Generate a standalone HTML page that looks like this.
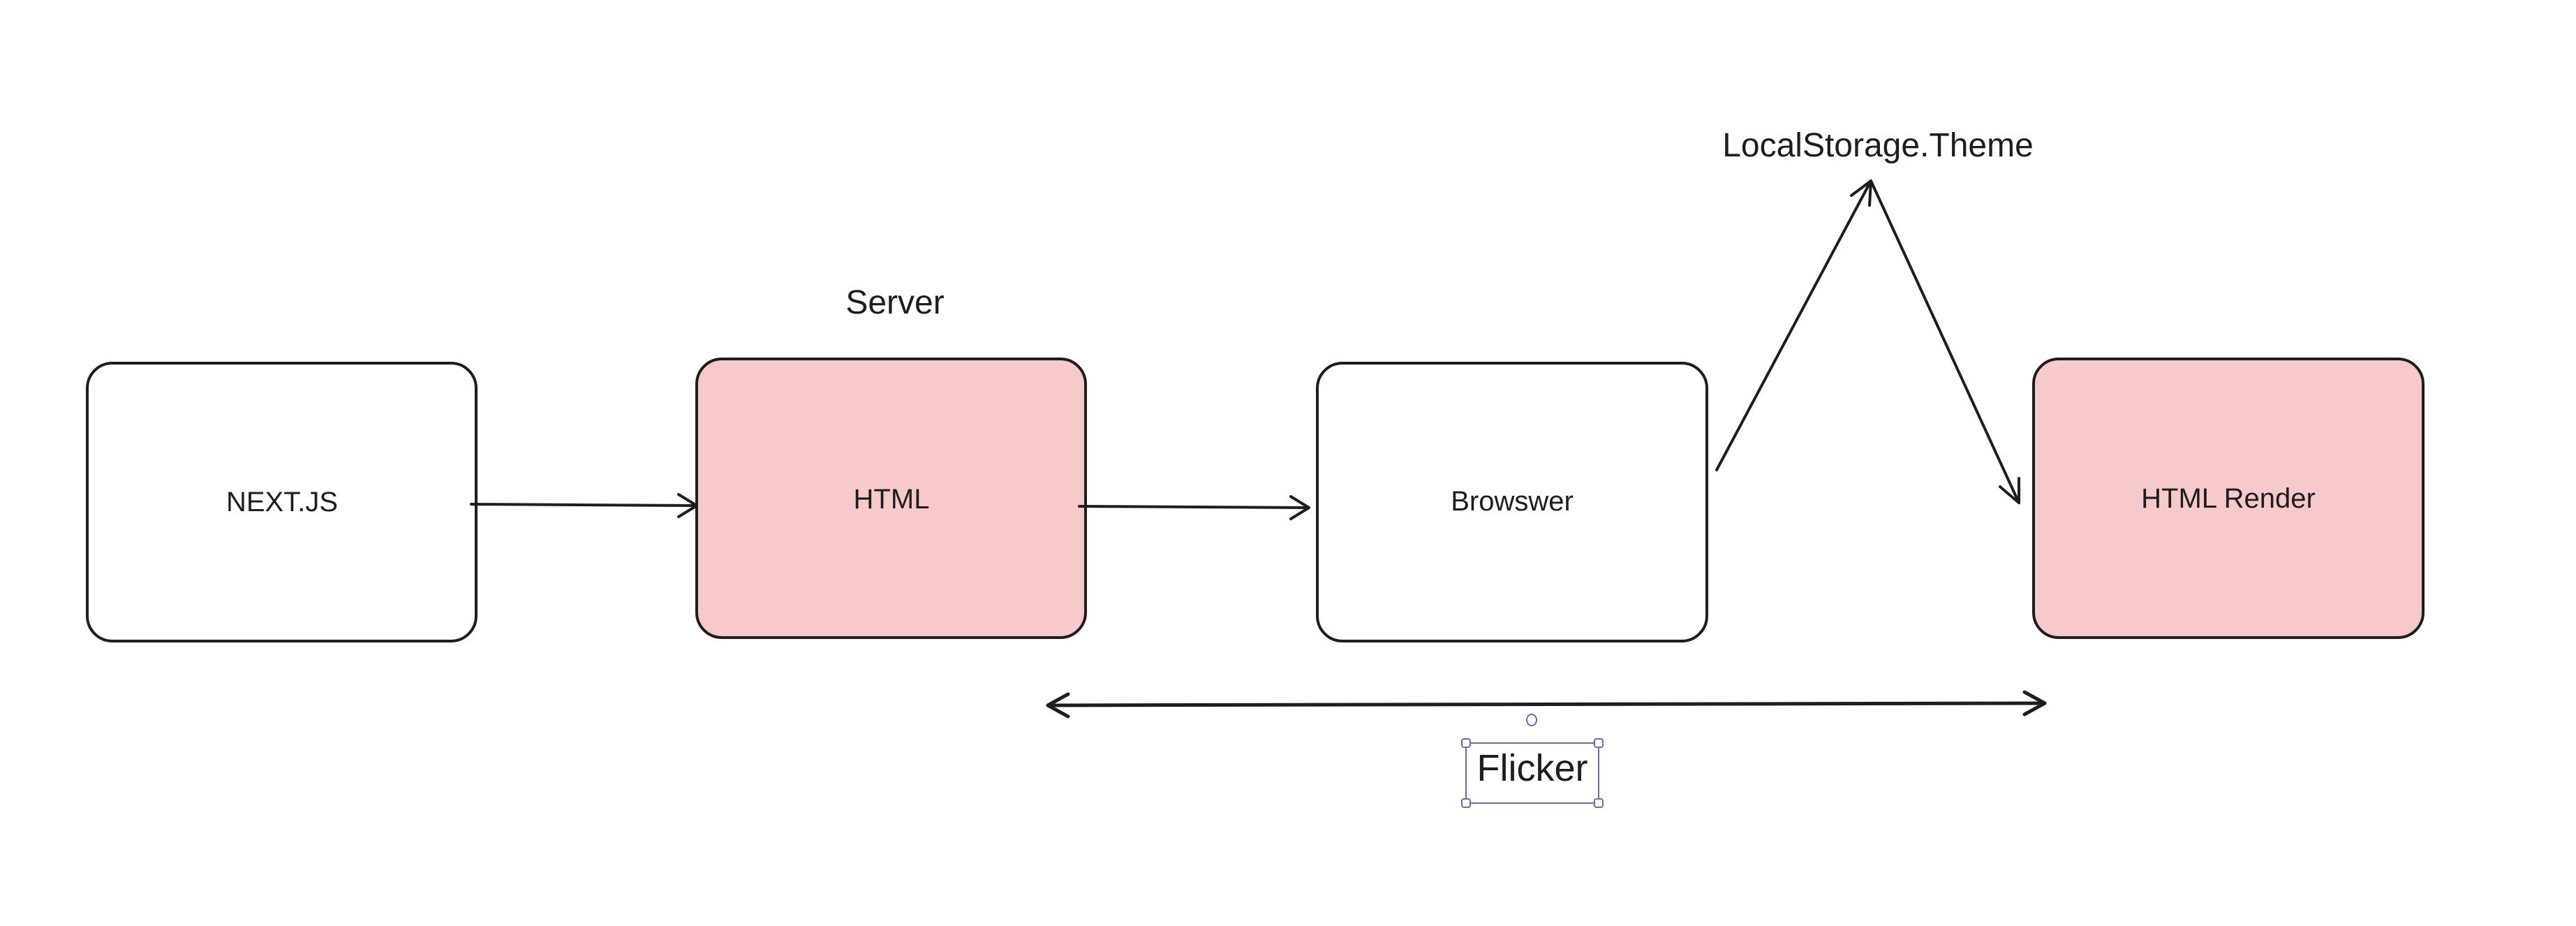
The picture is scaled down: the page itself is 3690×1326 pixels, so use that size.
<!DOCTYPE html>
<html><head><meta charset="utf-8"><style>
html,body{margin:0;padding:0;background:#fff;}
svg{display:block}
text{font-family:"Liberation Sans",sans-serif;fill:#1e1e1e;}
</style></head><body>
<svg width="3690" height="1326" viewBox="0 0 3690 1326" xmlns="http://www.w3.org/2000/svg">
<rect width="3690" height="1326" fill="#fff"/>
<g stroke="#1e1e1e" stroke-width="4" stroke-linecap="round" stroke-linejoin="round">
<rect x="125" y="520" width="557" height="398" rx="36" fill="#fff"/>
<rect x="998" y="514" width="557" height="399" rx="36" fill="#f6caca"/>
<rect x="1887" y="520" width="558" height="398" rx="36" fill="#fff"/>
<rect x="2913" y="514" width="558" height="399" rx="36" fill="#f6caca"/>
<g fill="none">
<path d="M675 722 L998 724 M972 708 L998 724 L972 740"/>
<path d="M1546 725 L1875 727 M1849 711 L1875 727 L1849 743"/>
<path d="M2459 673 L2680 259 M2652 280 L2680 259 L2678 294"/>
<path d="M2680 259 L2892 720 M2892 685 L2892 720 L2865 697"/>
<path d="M1501 1010 L2929 1007 M1530 994 L1501 1010 L1530 1026 M2900 991 L2929 1007 L2900 1023" stroke-width="5"/>
</g>
</g>
<text x="1282" y="449" font-size="48" text-anchor="middle">Server</text>
<text x="2690" y="224" font-size="48" text-anchor="middle">LocalStorage.Theme</text>
<text x="404" y="732" font-size="40" text-anchor="middle">NEXT.JS</text>
<text x="1277" y="728" font-size="40" text-anchor="middle">HTML</text>
<text x="2166" y="731" font-size="40" text-anchor="middle">Browswer</text>
<text x="3192" y="727" font-size="40" text-anchor="middle">HTML Render</text>
<text x="2195" y="1118" font-size="54" text-anchor="middle">Flicker</text>
<g fill="#fff" stroke="#6965db" stroke-width="2">
<rect x="2100" y="1064" width="190" height="86" fill="none"/>
<rect x="2094" y="1058" width="12" height="12" rx="3"/>
<rect x="2284" y="1058" width="12" height="12" rx="3"/>
<rect x="2094" y="1144" width="12" height="12" rx="3"/>
<rect x="2284" y="1144" width="12" height="12" rx="3"/>
<ellipse cx="2194" cy="1031" rx="7" ry="8"/>
</g>
</svg>
</body></html>
